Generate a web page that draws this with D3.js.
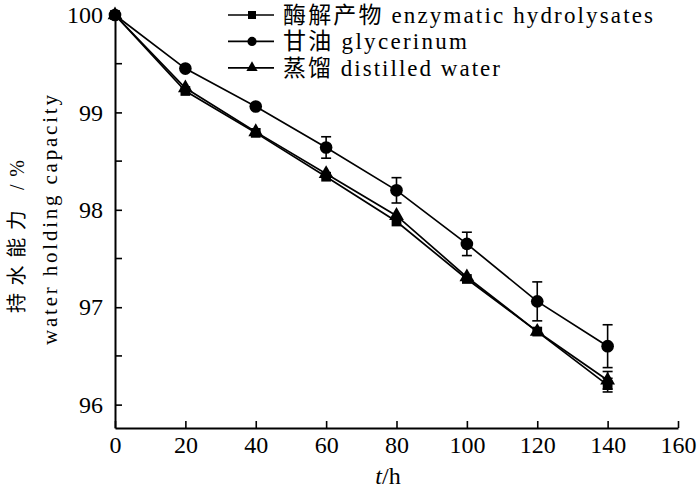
<!DOCTYPE html>
<html><head><meta charset="utf-8">
<script src="https://cdn.jsdelivr.net/npm/d3@7/dist/d3.min.js"></script>
<style>body{margin:0;background:#fff}svg{display:block}</style>
</head><body>
<script>
const times = [0, 20, 40, 60, 80, 100, 120, 140];
const seriesNames = ["酶解产物 enzymatic hydrolysates", "甘油 glycerinum", "蒸馏 distilled water"];
const enzymatic = [100, 99.22, 98.79, 98.34, 97.88, 97.29, 96.75, 96.2];
const enzymaticErr = [0, 0.02, 0.03, 0.03, 0.04, 0.04, 0.04, 0.07];
const glycerin = [100, 99.45, 99.06, 98.64, 98.2, 97.65, 97.06, 96.6];
const glycerinErr = [0, 0.02, 0.03, 0.11, 0.13, 0.12, 0.2, 0.22];
const distilled = [100, 99.25, 98.8, 98.37, 97.94, 97.31, 96.75, 96.25];
const distilledErr = [0, 0.02, 0.03, 0.03, 0.04, 0.04, 0.04, 0.09];
const xTicks = [0, 20, 40, 60, 80, 100, 120, 140, 160];
const yTicks = [96, 97, 98, 99, 100];
const yMinorTicks = [96.5, 97.5, 98.5, 99.5];

const W = 700, H = 488;
const font = "'Liberation Serif', 'Times New Roman', Tinos, 'Noto Sans CJK SC', serif";
const svg = d3.select("body").append("svg").attr("width", W).attr("height", H);

const x = d3.scaleLinear().domain([0, 160]).range([115, 678]);
const y = d3.scaleLinear().domain([95.76, 100]).range([428, 15]);

// axes
const xAxis = d3.axisBottom(x).tickValues(xTicks).tickFormat(d3.format("d"))
  .tickSize(-7).tickPadding(8).tickSizeOuter(0);
const gx = svg.append("g").attr("transform", `translate(0,${y(95.76)})`).call(xAxis);
const yAxis = d3.axisLeft(y).tickValues(yTicks).tickFormat(d3.format("d"))
  .tickSize(-7).tickPadding(12).tickSizeOuter(0);
const gy = svg.append("g").attr("transform", `translate(${x(0)},0)`).call(yAxis);
gy.selectAll(".tick").filter(d => d === 100).select("line").remove();
svg.append("g").selectAll("line").data(yMinorTicks).join("line")
  .attr("x1", x(0)).attr("x2", x(0) + 7).attr("y1", d => y(d)).attr("y2", d => y(d))
  .attr("stroke", "#000").attr("stroke-width", 1.6);
[gx, gy].forEach(g => {
  g.attr("font-family", null);
  g.select(".domain").attr("stroke-width", 2);
  g.selectAll(".tick line").attr("stroke-width", 1.6);
  g.selectAll(".tick text").attr("font-size", 24).style("font-family", font).attr("fill", "#000");
});

// axis titles
svg.append("text").attr("x", 388).attr("y", 484).attr("text-anchor", "middle")
  .attr("font-size", 24).style("font-family", font)
  .html('<tspan font-style="italic">t</tspan>/h');
svg.append("text").attr("transform", "translate(24,313) rotate(-90)")
  .attr("font-size", 20).style("font-family", font)
  .attr("textLength", 153).attr("lengthAdjust", "spacing").text("持水能力 /%");
svg.append("text").attr("transform", "translate(57,345) rotate(-90)")
  .attr("font-size", 21).style("font-family", font)
  .attr("textLength", 250).attr("lengthAdjust", "spacing").text("water holding capacity");

const series = [
  {name: seriesNames[0], vals: enzymatic, err: enzymaticErr, sym: d3.symbolSquare, size: 95, lsize: 64, lw: 370},
  {name: seriesNames[1], vals: glycerin, err: glycerinErr, sym: d3.symbolCircle, size: 125, lsize: 66, lw: 184},
  {name: seriesNames[2], vals: distilled, err: distilledErr, sym: d3.symbolTriangle, size: 95, lsize: 55, lw: 217}
];

const line = d3.line().x(d => x(d[0])).y(d => y(d[1]));
series.forEach(s => {
  const pts = times.map((t, i) => [t, s.vals[i], s.err[i]]);
  const g = svg.append("g");
  g.append("path").datum(pts).attr("d", line).attr("fill", "none")
    .attr("stroke", "#000").attr("stroke-width", 1.7);
  const eb = g.selectAll(".eb").data(pts.filter(p => p[2] >= 0.05)).join("g");
  eb.append("line").attr("x1", d => x(d[0])).attr("x2", d => x(d[0]))
    .attr("y1", d => y(d[1] - d[2])).attr("y2", d => y(d[1] + d[2]))
    .attr("stroke", "#000").attr("stroke-width", 1.6);
  [-1, 1].forEach(sg => {
    eb.append("line").attr("x1", d => x(d[0]) - 5).attr("x2", d => x(d[0]) + 5)
      .attr("y1", d => y(d[1] + sg * d[2])).attr("y2", d => y(d[1] + sg * d[2]))
      .attr("stroke", "#000").attr("stroke-width", 1.6);
  });
  g.selectAll(".m").data(pts).join("path")
    .attr("transform", d => `translate(${x(d[0])},${y(d[1])})`)
    .attr("d", d3.symbol().type(s.sym).size(s.size)).attr("fill", "#000");
});

// legend
const leg = svg.append("g");
series.forEach((s, i) => {
  const ly = 15 + i * 26.4;
  leg.append("line").attr("x1", 228).attr("x2", 274).attr("y1", ly).attr("y2", ly)
    .attr("stroke", "#000").attr("stroke-width", 1.7);
  leg.append("path").attr("transform", `translate(252,${ly})`)
    .attr("d", d3.symbol().type(s.sym).size(s.lsize)).attr("fill", "#000");
  leg.append("text").attr("x", 283).attr("y", ly + 8).attr("font-size", 23)
    .style("font-family", font).attr("textLength", s.lw).attr("lengthAdjust", "spacing")
    .text(s.name);
});
</script>
</body></html>
